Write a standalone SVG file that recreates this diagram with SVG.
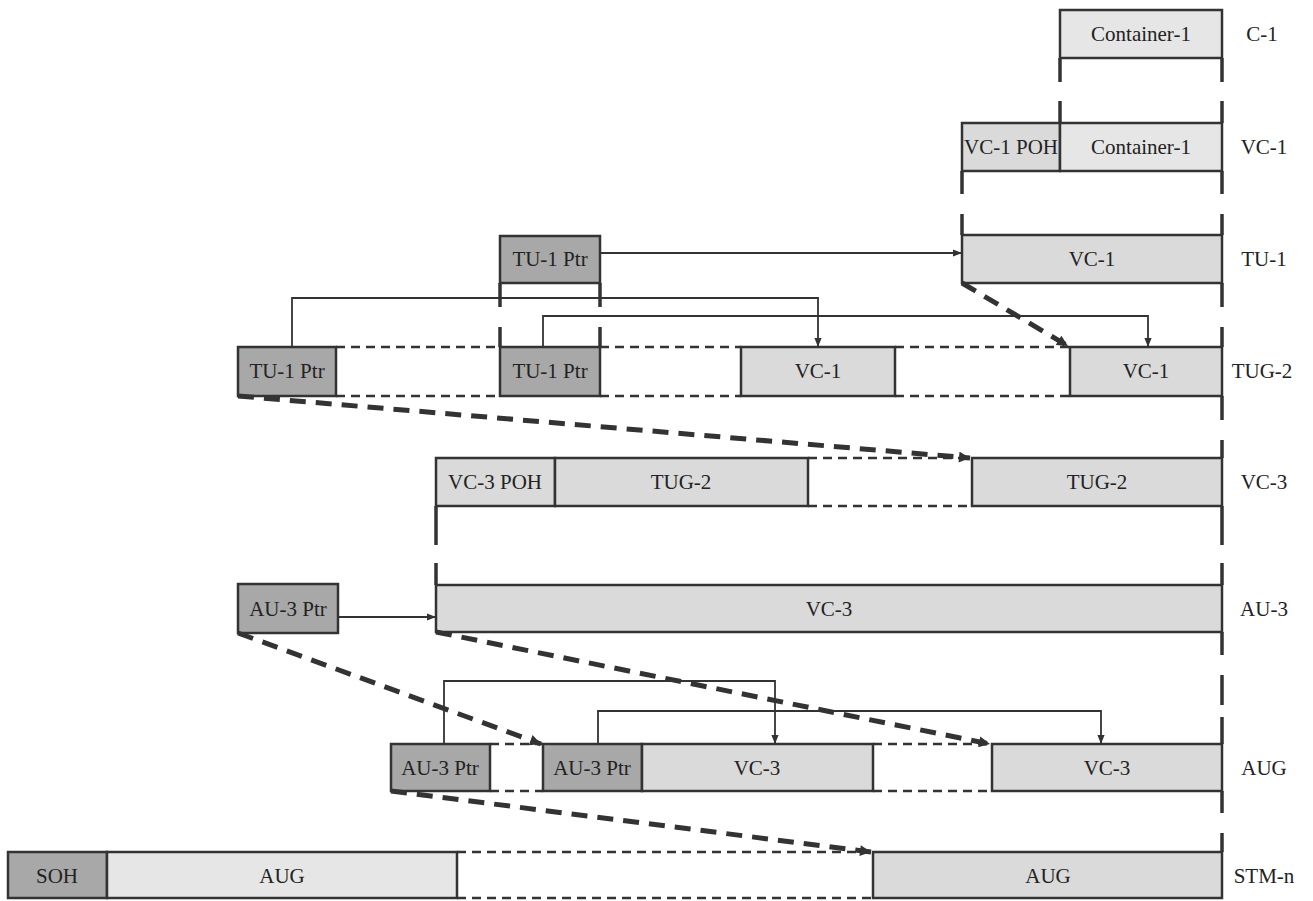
<svg xmlns="http://www.w3.org/2000/svg" width="1313" height="901" viewBox="0 0 1313 901">
<defs>
<style>
.box{stroke:#333;stroke-width:2.5}
.lt{fill:#dadada}
.lt2{fill:#e6e6e6}
.dk{fill:#a8a8a8}
.t{font-family:"Liberation Serif",serif;font-size:21px;fill:#222;text-anchor:middle;dominant-baseline:central}
.dsh{stroke:#333;stroke-width:2.5;stroke-dasharray:9 6;fill:none}
.big{stroke:#333;stroke-width:5;stroke-dasharray:16 10;fill:none}
.ln{stroke:#333;stroke-width:1.8;fill:none}
.brk{stroke:#333;stroke-width:3.5;fill:none}
</style>
<marker id="ah" viewBox="0 0 10 10" refX="10" refY="5" markerWidth="9" markerHeight="9" markerUnits="userSpaceOnUse" orient="auto"><path d="M0,1 L10,5 L0,9 Z" fill="#333"/></marker>
<marker id="ahb" viewBox="0 0 10 10" refX="10" refY="5" markerWidth="12" markerHeight="11" markerUnits="userSpaceOnUse" orient="auto"><path d="M0,0 L10,5 L0,10 Z" fill="#333"/></marker>
</defs>
<rect width="1313" height="901" fill="#fff"/>

<g id="labels">
<text class="t" x="1262" y="34">C-1</text>
<text class="t" x="1264" y="147">VC-1</text>
<text class="t" x="1264" y="259">TU-1</text>
<text class="t" x="1262" y="371">TUG-2</text>
<text class="t" x="1264" y="482">VC-3</text>
<text class="t" x="1264" y="609">AU-3</text>
<text class="t" x="1264" y="768">AUG</text>
<text class="t" x="1264" y="876">STM-n</text>
</g>

<g id="row-c1">
<rect class="box lt2" x="1060" y="10" width="162" height="48"/>
<text class="t" x="1141" y="34">Container-1</text>
</g>

<g id="row-vc1">
<rect class="box lt" x="962" y="123" width="98" height="48"/>
<text class="t" x="1011" y="147">VC-1 POH</text>
<rect class="box lt2" x="1060" y="123" width="162" height="48"/>
<text class="t" x="1141" y="147">Container-1</text>
</g>

<g id="row-tu1">
<rect class="box lt" x="962" y="235" width="260" height="48"/>
<text class="t" x="1092" y="259">VC-1</text>
<rect class="box dk" x="500" y="236" width="100" height="47"/>
<text class="t" x="550" y="259">TU-1 Ptr</text>
</g>

<g id="row-tug2">
<rect class="box dk" x="238" y="347" width="98" height="49"/>
<text class="t" x="287" y="371">TU-1 Ptr</text>
<rect class="box dk" x="500" y="347" width="100" height="49"/>
<text class="t" x="550" y="371">TU-1 Ptr</text>
<rect class="box lt" x="741" y="347" width="154" height="49"/>
<text class="t" x="818" y="371">VC-1</text>
<rect class="box lt" x="1070" y="347" width="152" height="49"/>
<text class="t" x="1146" y="371">VC-1</text>
</g>

<g id="row-vc3">
<rect class="box lt" x="436" y="458" width="119" height="48"/>
<text class="t" x="495" y="482">VC-3 POH</text>
<rect class="box lt" x="555" y="458" width="253" height="48"/>
<text class="t" x="681" y="482">TUG-2</text>
<rect class="box lt" x="972" y="458" width="250" height="48"/>
<text class="t" x="1097" y="482">TUG-2</text>
</g>

<g id="row-au3">
<rect class="box dk" x="238" y="584" width="100" height="49"/>
<text class="t" x="288" y="609">AU-3 Ptr</text>
<rect class="box lt" x="436" y="585" width="786" height="47"/>
<text class="t" x="829" y="609">VC-3</text>
</g>

<g id="row-aug">
<rect class="box dk" x="391" y="744" width="99" height="47"/>
<text class="t" x="440" y="768">AU-3 Ptr</text>
<rect class="box dk" x="543" y="744" width="99" height="47"/>
<text class="t" x="592" y="768">AU-3 Ptr</text>
<rect class="box lt" x="642" y="744" width="231" height="47"/>
<text class="t" x="757" y="768">VC-3</text>
<rect class="box lt" x="992" y="744" width="230" height="47"/>
<text class="t" x="1107" y="768">VC-3</text>
</g>

<g id="row-stm">
<rect class="box dk" x="8" y="852" width="99" height="46"/>
<text class="t" x="57" y="876">SOH</text>
<rect class="box lt2" x="107" y="852" width="350" height="46"/>
<text class="t" x="282" y="876">AUG</text>
<rect class="box lt" x="873" y="852" width="349" height="46"/>
<text class="t" x="1048" y="876">AUG</text>
</g>

<g id="connectors">
<path class="brk" d="M1060,58 V82 M1060,101 V123 M1222,58 V82 M1222,101 V123"/>
<path class="brk" d="M962,171 V194 M962,214 V235 M1222,171 V194 M1222,214 V235"/>
<path class="brk" d="M500,283 V307 M500,327 V347 M600,283 V307 M600,327 V347"/>
<path class="brk" d="M1222,283 V307 M1222,327 V347 M1222,396 V420 M1222,440 V458"/>
<path class="brk" d="M436,506 V545 M436,563 V585 M1222,506 V545 M1222,563 V585"/>
<path class="brk" d="M1222,632 V655 M1222,675 V705 M1222,717 V744 M1222,791 V813 M1222,833 V852"/>
<path class="dsh" d="M336,347 H500 M336,396 H500 M600,347 H741 M600,396 H741 M895,347 H1070 M895,396 H1070"/>
<path class="dsh" d="M808,458 H972 M808,506 H972"/>
<path class="dsh" d="M490,744 H543 M490,791 H543 M873,744 H992 M873,791 H992"/>
<path class="dsh" d="M457,852 H873 M457,898 H873"/>
<path class="ln" d="M600,253 H962" marker-end="url(#ah)"/>
<path class="ln" d="M292,347 V298 H818 V347" marker-end="url(#ah)"/>
<path class="ln" d="M543,347 V316 H1148 V347" marker-end="url(#ah)"/>
<path class="ln" d="M338,617 H436" marker-end="url(#ah)"/>
<path class="ln" d="M444,744 V681 H775 V744" marker-end="url(#ah)"/>
<path class="ln" d="M598,744 V711 H1101 V744" marker-end="url(#ah)"/>
<path class="big" d="M962,283 L1068,346" marker-end="url(#ahb)"/>
<path class="big" d="M238,396 L970,458" marker-end="url(#ahb)"/>
<path class="big" d="M238,633 L541,744" marker-end="url(#ahb)"/>
<path class="big" d="M436,632 L990,744" marker-end="url(#ahb)"/>
<path class="big" d="M391,791 L871,852" marker-end="url(#ahb)"/>
</g>
</svg>
